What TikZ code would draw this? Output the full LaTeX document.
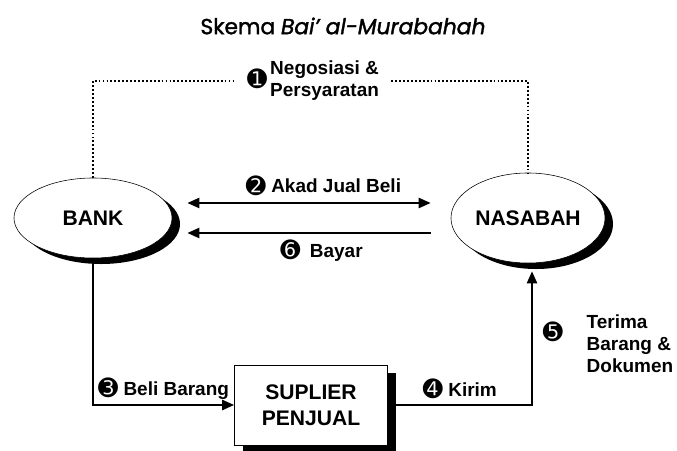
\documentclass[tikz,border=0pt]{standalone}
\usepackage{fontspec}
\setmainfont{Liberation Sans}
\newfontfamily\titlefont{Poppins}[FakeBold=1.6]
\newfontfamily\dingfont{DejaVu Sans}
\usetikzlibrary{shapes.geometric, arrows.meta, positioning, shadows}

\newcommand{\stepno}[1]{\raisebox{-1.2pt}{\dingfont\mdseries\fontsize{17}{17}\selectfont #1}}

\begin{document}
\begin{tikzpicture}[
    x=0.025cm, y=-0.025cm,
    every node/.style={font=\fontsize{13.5}{15.5}\selectfont\bfseries},
    party/.style={ellipse, draw, thin, fill=white, inner sep=0pt, font=\fontsize{15}{18}\selectfont\bfseries,
        drop shadow={shadow xshift=0.2cm, shadow yshift=-0.15cm, fill=black, opacity=1}},
    shopbox/.style={rectangle, draw, thin, fill=white, minimum width=3.825cm, minimum height=2cm, align=center,
        font=\fontsize{15}{18.5}\selectfont\bfseries,
        drop shadow={shadow xshift=0.22cm, shadow yshift=-0.2cm, fill=black, opacity=1}},
    lbl/.style={inner sep=1pt, align=left},
    myarrow/.style={-{Triangle[length=0.3cm, width=0.25cm]}, line width=1.6pt},
    twoarrow/.style={{Triangle[length=0.3cm, width=0.25cm]}-{Triangle[length=0.3cm, width=0.25cm]}, line width=1.6pt},
    dotline/.style={line width=1.3pt, dash pattern=on 1.3pt off 1.5pt}
]
\useasboundingbox (0,0) rectangle (677,451);

% title
\node[font=\titlefont\fontsize{15.5}{18}\selectfont] (title) at (343,26) {Skema \textit{Bai’ al-Murabahah}};

% parties
\node[party, minimum width=3.95cm, minimum height=2cm] (bank) at (93,218) {BANK};
\node[party, minimum width=3.85cm, minimum height=2.25cm] (nasabah) at (528,218) {NASABAH};
\node[shopbox] (suplier) at (311,405) {SUPLIER\\PENJUAL};

% 1: negotiation
\node[lbl, inner xsep=0.3cm] (nego) at (313,81) {\stepno{➊}\,\begin{tabular}{@{}l@{}}Negosiasi \&\\Persyaratan\end{tabular}};
\draw[dotline] (bank.north) |- (nego.west);
\draw[dotline] (nego.east) -| (nasabah.north);

% 2 and 6
\draw[twoarrow, shorten <=0.375cm, shorten >=0.5cm] ([yshift=0.375cm]bank.east) --
    node[above=1pt, xshift=0.3cm] (akad) {\stepno{➋} Akad Jual Beli} ([yshift=0.375cm]nasabah.west);
\draw[myarrow, shorten <=0.5cm, shorten >=0.375cm] ([yshift=-0.375cm]nasabah.west) --
    node[below=1pt, xshift=0.25cm] (bayar) {\stepno{➏}\enspace Bayar} ([yshift=-0.375cm]bank.east);

% 3 and 4
\draw[myarrow] (bank.south) |- node[above, pos=0.75] (beli) {\stepno{➌} Beli Barang} (suplier.west);
\draw[myarrow] (suplier.east) -| node[above, pos=0.25] (kirim) {\stepno{➍} Kirim} ([xshift=0.1cm, yshift=-0.2cm]nasabah.south);

% 5
\node (five) at (553,332) {\stepno{➎}};
\node[lbl, anchor=west] (terima) at (585,344) {Terima\\Barang \&\\Dokumen};

\end{tikzpicture}
\end{document}
